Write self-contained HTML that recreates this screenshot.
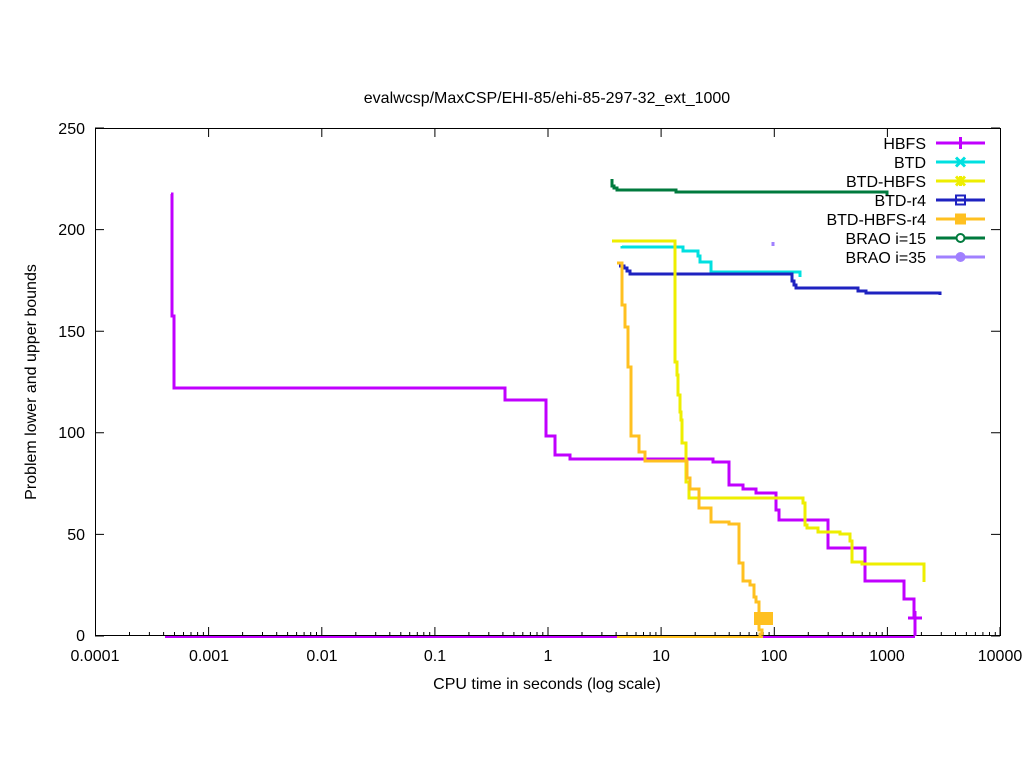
<!DOCTYPE html>
<html><head><meta charset="utf-8"><style>body{margin:0;background:#fff}svg{display:block}text{font-family:"Liberation Sans",sans-serif;font-size:16px;fill:#000}</style></head><body>
<svg width="1024" height="768" viewBox="0 0 1024 768" xmlns="http://www.w3.org/2000/svg">
<rect width="1024" height="768" fill="#fff"/>
<text x="547" y="103" text-anchor="middle">evalwcsp/MaxCSP/EHI-85/ehi-85-297-32_ext_1000</text>
<g fill="none" stroke-width="3">
<path stroke="#c000ff" d="M165 636.5H915"/>
<path stroke="#ffc020" d="M617 636.5H763"/>
</g>
<g stroke="#000" stroke-width="1" fill="none">
<rect x="95.5" y="128.5" width="905" height="507"/>
<path d="M95 636h9M1000 636h-9M95 534.4h9M1000 534.4h-9M95 432.8h9M1000 432.8h-9M95 331.2h9M1000 331.2h-9M95 229.6h9M1000 229.6h-9M95 128h9M1000 128h-9"/>
<path d="M95.5 636v-9M208.6 636v-9M321.8 636v-9M434.9 636v-9M548 636v-9M661.1 636v-9M774.3 636v-9M887.4 636v-9M1000 636v-9M95.5 128v9M208.6 128v9M321.8 128v9M434.9 128v9M548 128v9M661.1 128v9M774.3 128v9M887.4 128v9"/>
<path d="M129.5 636v-4M149.4 636v-4M163.6 636v-4M174.5 636v-4M183.5 636v-4M191 636v-4M197.6 636v-4M203.4 636v-4M242.6 636v-4M262.5 636v-4M276.7 636v-4M287.6 636v-4M296.6 636v-4M304.1 636v-4M310.7 636v-4M316.5 636v-4M355.8 636v-4M375.7 636v-4M389.8 636v-4M400.8 636v-4M409.7 636v-4M417.3 636v-4M423.8 636v-4M429.7 636v-4M468.9 636v-4M488.8 636v-4M502.9 636v-4M513.9 636v-4M522.8 636v-4M530.4 636v-4M537 636v-4M542.8 636v-4M582 636v-4M601.9 636v-4M616.1 636v-4M627 636v-4M636 636v-4M643.5 636v-4M650.1 636v-4M655.9 636v-4M695.2 636v-4M715.1 636v-4M729.2 636v-4M740.2 636v-4M749.1 636v-4M756.7 636v-4M763.2 636v-4M769.1 636v-4M808.3 636v-4M828.2 636v-4M842.3 636v-4M853.3 636v-4M862.2 636v-4M869.8 636v-4M876.4 636v-4M882.2 636v-4M921.4 636v-4M941.3 636v-4M955.5 636v-4M966.4 636v-4M975.4 636v-4M982.9 636v-4M989.5 636v-4M995.3 636v-4"/>
</g>
<g text-anchor="end">
<text x="85" y="641">0</text><text x="85" y="540">50</text><text x="85" y="438">100</text><text x="85" y="337">150</text><text x="85" y="235">200</text><text x="85" y="134">250</text>
</g>
<g text-anchor="middle">
<text x="95" y="661">0.0001</text><text x="209" y="661">0.001</text><text x="322" y="661">0.01</text><text x="435" y="661">0.1</text><text x="548" y="661">1</text><text x="661" y="661">10</text><text x="774" y="661">100</text><text x="887" y="661">1000</text><text x="1000" y="661">10000</text>
<text x="547" y="689">CPU time in seconds (log scale)</text>
</g>
<text transform="translate(36 382) rotate(-90)" text-anchor="middle">Problem lower and upper bounds</text>
<g fill="none" stroke-width="3">
<path stroke="#007a3d" d="M612 179V186H614V188H617V190H676V192H887V195"/>
<path stroke="#00e0e0" d="M622 246V247H683V251H698V256H700V262H711V272H800V277"/>
<path stroke="#1e22c0" d="M619 266H624V268H627V271H630V274H792V281H794V285H796V288H858V291H866V293H940V295"/>
<path stroke="#c000ff" d="M171 194H172V316H174V388H505V400H546V436H555V455H570V459H713V462H729V485H743V489H756V493H776V510H779V520H828V548H865V581H904V599H914V615H915V636"/>
<path stroke="#eeee00" d="M612 241H675V362H677V375H678V395H680V412H681V420H682V443H686V482H689V498H803V503H805V525H807V528H818V532H840V534H850V541H852V562H862V564H924V582"/>
<path stroke="#ffc020" d="M617 263H622V305H625V327H628V367H631V436H639V452H645V461H687V478H690V489H699V508H711V522H729V524H739V563H743V581H750V585H754V597H756V602H759V630H762V634H760V636"/>
<path stroke="#a080ff" d="M773 242V246"/>
</g>
<rect x="754" y="612" width="19" height="13" fill="#ffc020"/>
<path d="M908 618H922M915 611V625" stroke="#c000ff" stroke-width="3"/>
<g text-anchor="end">
<text x="926" y="149">HBFS</text><text x="926" y="168">BTD</text><text x="926" y="187">BTD-HBFS</text><text x="926" y="206">BTD-r4</text><text x="926" y="225">BTD-HBFS-r4</text><text x="926" y="244">BRAO i=15</text><text x="926" y="263">BRAO i=35</text>
</g>
<g stroke-width="3" fill="none">
<path stroke="#c000ff" d="M936 143H985M960.5 137V149"/>
<path stroke="#00e0e0" d="M936 162H985M956 157.5L965 166.5M965 157.5L956 166.5"/>
<path stroke="#eeee00" d="M936 181H985M956 176.5L965 185.5M965 176.5L956 185.5M960.5 176V186"/>
<path stroke="#1e22c0" d="M936 200H985"/><rect x="956" y="195.5" width="9" height="9" stroke="#1e22c0" stroke-width="2"/>
<path stroke="#ffc020" d="M936 219H985"/><rect x="955" y="213.5" width="11" height="11" fill="#ffc020" stroke="none"/>
<path stroke="#007a3d" d="M936 238H985"/><circle cx="960.5" cy="238" r="4" stroke="#007a3d" stroke-width="2" fill="#fff"/>
<path stroke="#a080ff" d="M936 257H985"/><circle cx="960.5" cy="257" r="5" fill="#a080ff" stroke="none"/>
</g>
</svg>
</body></html>
